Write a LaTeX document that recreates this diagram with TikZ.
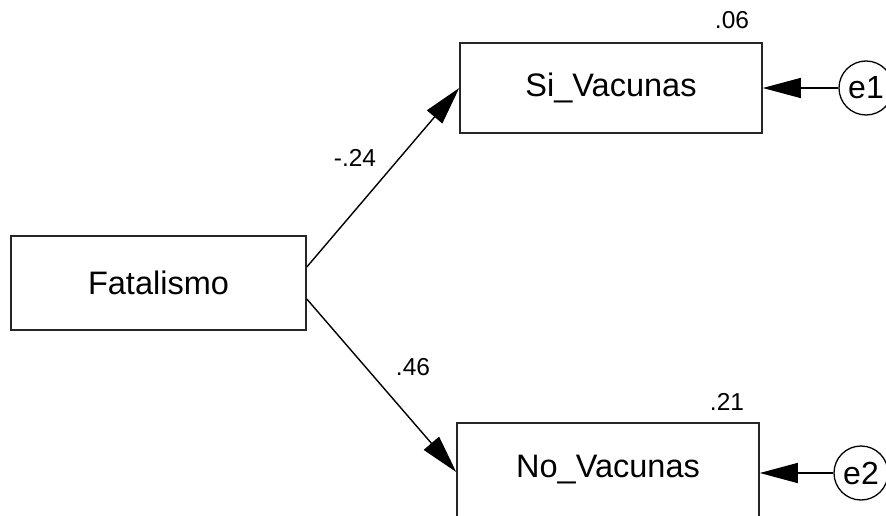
\documentclass[tikz,border=0pt]{standalone}
\usepackage{fontspec}
\setmainfont{Liberation Sans}
\usetikzlibrary{arrows.meta}
\begin{document}
\begin{tikzpicture}[x=1pt,y=1pt,
  varbox/.style={draw=black!85, line width=1.6pt, rectangle, inner sep=0pt, font=\fontsize{32.5}{34}\selectfont},
  errc/.style={draw=black, line width=1.3pt, circle, inner sep=0pt, minimum size=54pt, font=\fontsize{32}{34}\selectfont},
  coef/.style={font=\fontsize{24.5}{26}\selectfont, inner sep=0pt},
  path/.style={line width=1.4pt, -{Triangle[length=38pt,width=20pt]}}]
\useasboundingbox (0,0) rectangle (886,515);
\fill[white] (0,0) rectangle (886,515);
\node[varbox, minimum width=295pt, minimum height=94pt] (fat) at (158.5,232) {Fatalismo};
\node[varbox, minimum width=302pt, minimum height=90pt] (si) at (611,427) {Si\_Vacunas};
\node[varbox, minimum width=302pt, minimum height=94pt] (no) at (608,45) {No\_Vacunas};
\node[errc] (e1) at (866,427) {e1};
\node[errc] (e2) at (861,42) {e2};
\draw[path] ([yshift=16pt]fat.east) -- (si.west);
\draw[path] ([yshift=-16pt]fat.east) -- ([yshift=-2pt]no.west);
\draw[path] (e1) -- (si.east);
\draw[path] (e2) -- ([yshift=-3pt]no.east);
\node[coef] (c1) at (355,357) {-.24};
\node[coef] (c2) at (413,148) {.46};
\node[coef] (r1) at (732,495) {.06};
\node[coef] (r2) at (727,113) {.21};
\end{tikzpicture}
\end{document}
